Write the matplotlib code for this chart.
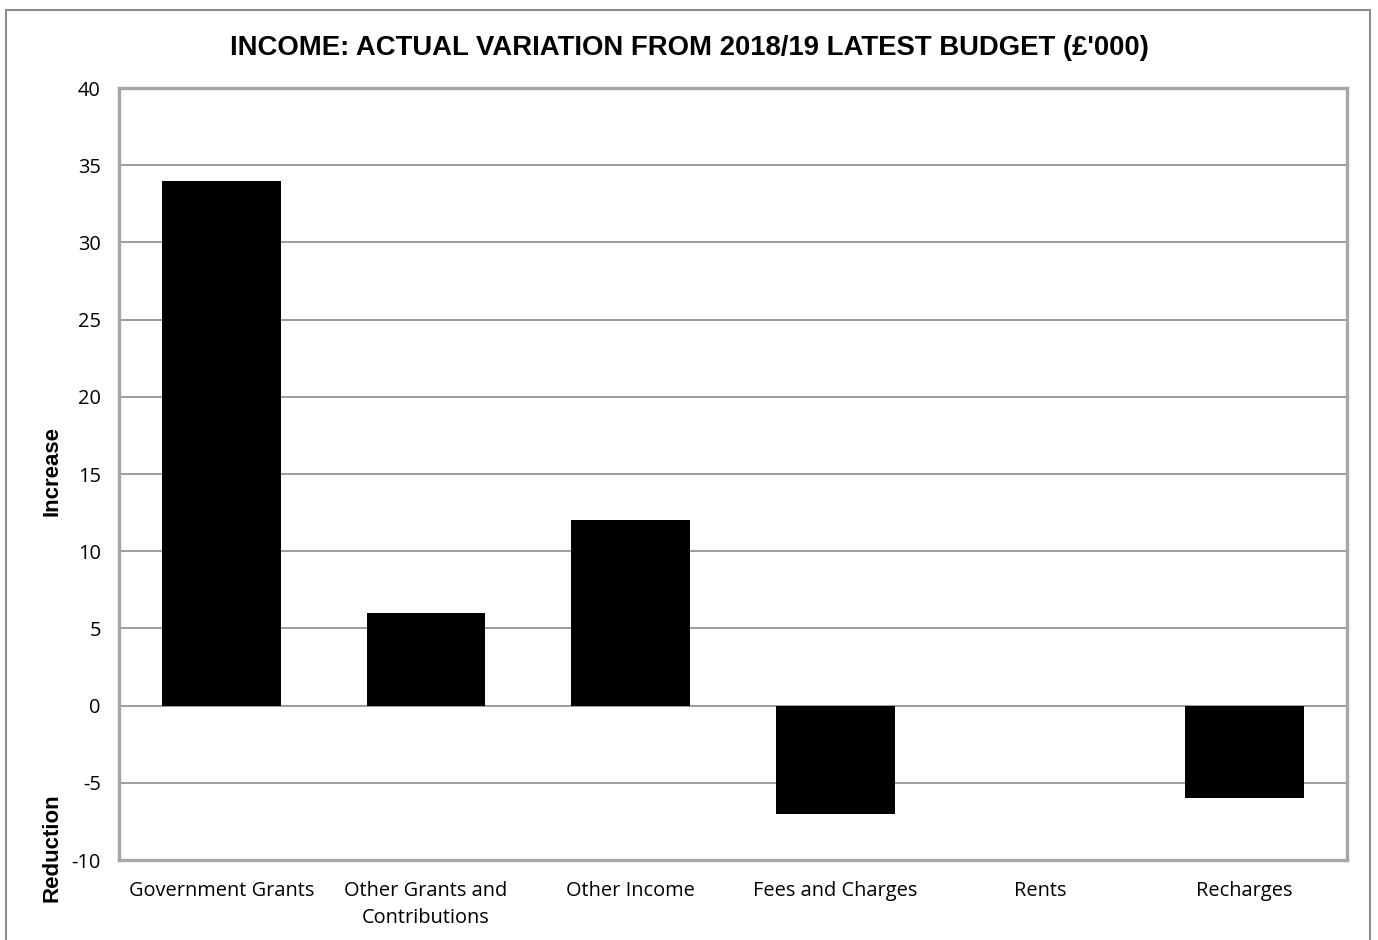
import matplotlib.pyplot as plt
from matplotlib.patches import Rectangle

categories = ['Government Grants', 'Other Grants and\nContributions', 'Other Income',
              'Fees and Charges', 'Rents', 'Recharges']
variation = [34, 6, 12, -7, 0, -6]
y_ticks = [-10, -5, 0, 5, 10, 15, 20, 25, 30, 35, 40]

fig = plt.figure(figsize=(13.78, 9.40), dpi=100)
ax = fig.add_axes([119 / 1378, 80 / 940, 1228 / 1378, 772 / 940])

# outer chart border
fig.patches.append(Rectangle((6 / 1378, -0.05), 1364 / 1378, 1.05 - 10 / 940,
                             transform=fig.transFigure, fill=False,
                             edgecolor='#8c8c8c', linewidth=1.5))

x = range(len(categories))
ax.bar(x, variation, width=0.58, color='black', zorder=3)

ax.set_xlim(-0.5, len(categories) - 0.5)
ax.set_ylim(-10, 40)
ax.set_yticks(y_ticks)
ax.set_yticklabels([str(v) for v in y_ticks])
ax.set_xticks(list(x))
ax.set_xticklabels(categories)
ax.yaxis.grid(True, color='#8c8c8c', linewidth=1.2, zorder=0)
ax.tick_params(length=0, labelsize=14.4, pad=13)
ax.tick_params(axis='x', pad=15)
for lbl in ax.get_xticklabels() + ax.get_yticklabels():
    lbl.set_family('Open Sans')
for lbl in ax.get_xticklabels():
    lbl.set_linespacing(1.45)

for spine in ax.spines.values():
    spine.set_color('#a6a6a6')
    spine.set_linewidth(2.4)

fig.text(0.5, 1 - 48 / 940, "INCOME: ACTUAL VARIATION FROM 2018/19 LATEST BUDGET (£'000)",
         ha='center', va='center', family='Liberation Sans', weight='bold', fontsize=19.8)
fig.text(52 / 1378, 1 - 471 / 940, 'Increase', rotation=90, ha='center', va='center',
         family='Liberation Sans', weight='bold', fontsize=16)
fig.text(52 / 1378, 1 - 848 / 940, 'Reduction', rotation=90, ha='center', va='center',
         family='Liberation Sans', weight='bold', fontsize=16)

fig.savefig('out.png', dpi=100)
